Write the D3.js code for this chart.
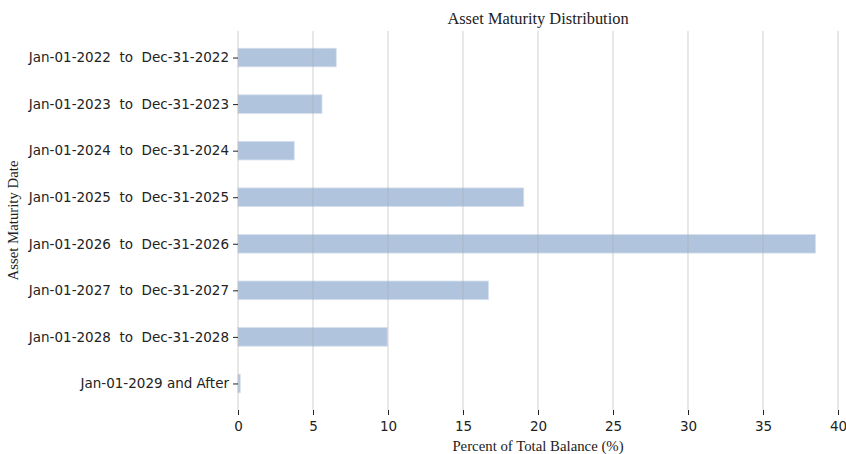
<!DOCTYPE html>
<html>
<head>
<meta charset="utf-8">
<script src="https://cdn.jsdelivr.net/npm/d3@7"></script>
<style>
  body { margin: 0; background: #fff; }
  .tick text { font-family: "DejaVu Sans", sans-serif; font-size: 13.5px; fill: #222; }
  .serif { font-family: "Liberation Serif", "Times New Roman", serif; fill: #222; }
</style>
</head>
<body>
<svg id="chart" width="846" height="454"></svg>
<script>
// data
const categories = [
  "Jan-01-2022  to  Dec-31-2022",
  "Jan-01-2023  to  Dec-31-2023",
  "Jan-01-2024  to  Dec-31-2024",
  "Jan-01-2025  to  Dec-31-2025",
  "Jan-01-2026  to  Dec-31-2026",
  "Jan-01-2027  to  Dec-31-2027",
  "Jan-01-2028  to  Dec-31-2028",
  "Jan-01-2029 and After"
];
const percents = [6.55, 5.6, 3.75, 19.05, 38.5, 16.7, 9.95, 0.15];
const xTicks = [0, 5, 10, 15, 20, 25, 30, 35, 40];

const svg = d3.select("#chart");
const plotLeft = 238, plotRight = 838, plotTop = 31, plotBottom = 410;

let xScale = d3.scaleLinear()
    .domain([0, 40])
    .range([plotLeft, plotRight]);

// matplotlib style: index based y with 5% margins
let yScale = d3.scaleLinear()
    .domain([-0.57, categories.length - 1 + 0.57])
    .range([plotTop, plotBottom]);

const barH = (yScale(1) - yScale(0)) * 0.4;

// bars
svg.append("g")
    .selectAll("rect")
    .data(percents)
    .join("rect")
    .attr("x", xScale(0))
    .attr("y", (d, i) => yScale(i) - barH / 2)
    .attr("width", d => xScale(d) - xScale(0))
    .attr("height", barH)
    .style("fill", "#b0c4de")
    .style("stroke", "#d6e0ee")
    .style("stroke-width", 0.8);

// vertical grid, drawn over the bars
svg.append("g")
    .selectAll("line")
    .data(xTicks)
    .join("line")
    .attr("x1", d => xScale(d))
    .attr("x2", d => xScale(d))
    .attr("y1", plotTop)
    .attr("y2", plotBottom)
    .style("stroke", "#a8a8a8")
    .style("stroke-opacity", 0.35)
    .style("stroke-width", 1.6);

// x axis
svg.append("g")
    .attr("transform", `translate(0, ${plotBottom})`)
    .call(d3.axisBottom(xScale)
        .tickValues(xTicks)
        .tickSize(5)
        .tickPadding(6)
        .tickFormat(d3.format("d")))
    .call(g => g.select(".domain").remove())
    .call(g => g.selectAll(".tick line").style("stroke", "#222"));

// y axis
svg.append("g")
    .attr("transform", `translate(${plotLeft}, 0)`)
    .call(d3.axisLeft(yScale)
        .tickValues(d3.range(categories.length))
        .tickSize(5)
        .tickPadding(4)
        .tickFormat(i => categories[i]))
    .call(g => g.select(".domain").remove())
    .call(g => g.selectAll(".tick line").style("stroke", "#222"))
    .call(g => g.selectAll(".tick text").style("white-space", "pre"));

// labels
svg.append("text")
    .attr("class", "serif")
    .attr("x", (plotLeft + plotRight) / 2)
    .attr("y", 24)
    .attr("text-anchor", "middle")
    .style("font-size", "16.4px")
    .text("Asset Maturity Distribution");

svg.append("text")
    .attr("class", "serif")
    .attr("x", (plotLeft + plotRight) / 2)
    .attr("y", 451)
    .attr("text-anchor", "middle")
    .style("font-size", "14.8px")
    .text("Percent of Total Balance (%)");

svg.append("text")
    .attr("class", "serif")
    .attr("transform", `translate(18, ${(plotTop + plotBottom) / 2}) rotate(-90)`)
    .attr("text-anchor", "middle")
    .style("font-size", "14.8px")
    .text("Asset Maturity Date");
</script>
</body>
</html>
